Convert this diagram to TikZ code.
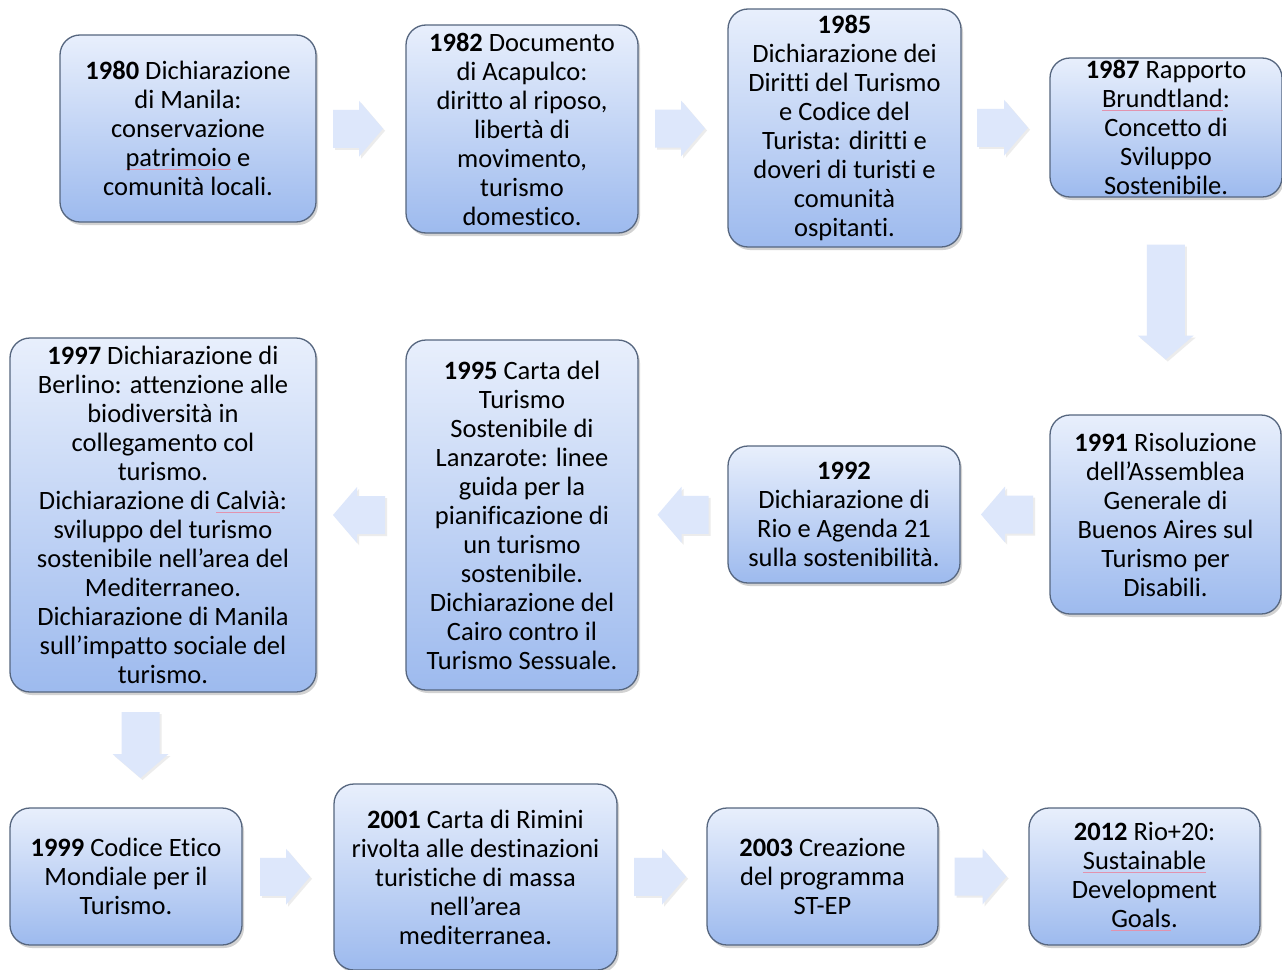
\documentclass[tikz,border=0pt]{standalone}
\usepackage{fontspec}
\setmainfont{Carlito}[Ligatures=NoCommon]
\usetikzlibrary{calc,shadows}
\definecolor{boxtop}{HTML}{E8EFFC}
\definecolor{boxbottom}{HTML}{9DBAEE}
\definecolor{boxline}{HTML}{56667F}
\definecolor{arrowfill}{HTML}{DDE7FB}
\definecolor{spellred}{HTML}{E293AE}
% spell-check style underline, drawn as a thin pink rule
\newcommand\spell[1]{\setbox0\hbox{#1}\rlap{\color{spellred}\rule[-3pt]{\wd0}{0.8pt}}#1}
% block arrow centred at #1, pointing at angle #2, of total length #3
\newcommand\blockarrow[3]{%
  \fill[arrowshape, shift={(#1)}, rotate=#2]
    ({-#3/2},-19) -- ({#3/2-24},-19) -- ({#3/2-24},-28) -- ({#3/2},0)
    -- ({#3/2-24},28) -- ({#3/2-24},19) -- ({-#3/2},19) -- cycle;}
\tikzset{
  event/.style={draw=boxline, line width=1.3pt, rounded corners=20pt,
    top color=boxtop, bottom color=boxbottom, align=center,
    inner sep=0pt, font=\fontsize{26.5}{29}\selectfont,
    drop shadow={opacity=0.35, shadow xshift=2pt, shadow yshift=-3pt}},
  arrowshape/.style={fill=arrowfill,
    drop shadow={opacity=0.15, shadow xshift=2pt, shadow yshift=-2pt}}
}
\begin{document}
\begin{tikzpicture}[x=1pt, y=-1pt]
\useasboundingbox (0,0) rectangle (1282,969);
\fill[white] (0,0) rectangle (1282,969);

% first row
\node[event, minimum width=256pt, minimum height=187pt] (b1) at (188,128.5)
  {\textbf{1980} Dichiarazione\\di Manila:\\conservazione\\\spell{patrimoio} e\\comunità locali.};
\node[event, minimum width=232pt, minimum height=208pt] (b2) at (522,129)
  {\textbf{1982} Documento\\di Acapulco:\\diritto al riposo,\\libertà di\\movimento,\\turismo\\domestico.};
\node[event, minimum width=233pt, minimum height=238pt] (b3) at (844.5,128)
  {\textbf{1985}\\Dichiarazione dei\\Diritti del Turismo\\e Codice del\\Turista: diritti e\\doveri di turisti e\\comunità\\ospitanti.};
\node[event, minimum width=232pt, minimum height=139pt] (b4) at (1166,127.5)
  {\textbf{1987} Rapporto\\\spell{Brundtland}:\\Concetto di\\Sviluppo\\Sostenibile.};

% second row
\node[event, minimum width=231pt, minimum height=199pt] (b5) at (1165.5,514.5)
  {\textbf{1991} Risoluzione\\dell’Assemblea\\Generale di\\Buenos Aires sul\\Turismo per\\Disabili.};
\node[event, minimum width=232pt, minimum height=137pt] (b6) at (844,514.5)
  {\textbf{1992}\\Dichiarazione di\\Rio e Agenda 21\\sulla sostenibilità.};
\node[event, minimum width=232pt, minimum height=350pt] (b7) at (522,515)
  {\textbf{1995} Carta del\\Turismo\\Sostenibile di\\Lanzarote: linee\\guida per la\\pianificazione di\\un turismo\\sostenibile.\\Dichiarazione del\\Cairo contro il\\Turismo Sessuale.};
\node[event, minimum width=306pt, minimum height=354pt] (b8) at (163,515)
  {\textbf{1997} Dichiarazione di\\Berlino: attenzione alle\\biodiversità in\\collegamento col\\turismo.\\Dichiarazione di \spell{Calvià}:\\sviluppo del turismo\\sostenibile nell’area del\\Mediterraneo.\\Dichiarazione di Manila\\sull’impatto sociale del\\turismo.};

% third row
\node[event, minimum width=232pt, minimum height=137pt] (b9) at (126,876.5)
  {\textbf{1999} Codice Etico\\Mondiale per il\\Turismo.};
\node[event, minimum width=283pt, minimum height=186pt] (b10) at (475.5,877)
  {\textbf{2001} Carta di Rimini\\rivolta alle destinazioni\\turistiche di massa\\nell’area\\mediterranea.};
\node[event, minimum width=231pt, minimum height=137pt] (b11) at (822.5,876.5)
  {\textbf{2003} Creazione\\del programma\\ST-EP};
\node[event, minimum width=231pt, minimum height=137pt] (b12) at (1144.5,876.5)
  {\textbf{2012} Rio+20:\\\spell{Sustainable}\\Development\\\spell{Goals}.};

% block arrows between consecutive events
\blockarrow{$(b1.east)!0.5!(b2.west)+(-3,0)$}{0}{50}
\blockarrow{$(b2.east)!0.5!(b3.west)+(-3,0)$}{0}{50}
\blockarrow{$(b3.east)!0.5!(b4.west)+(-3,0)$}{0}{51}
\blockarrow{$(b4.south)!0.5!(b5.north)+(0,-4)$}{-90}{115}
\blockarrow{$(b5.west)!0.5!(b6.east)+(2,0)$}{180}{52}
\blockarrow{$(b6.west)!0.5!(b7.east)+(0,0)$}{180}{51}
\blockarrow{$(b7.west)!0.5!(b8.east)+(-2,0)$}{180}{52}
\blockarrow{$(b8.south)!0.5!(b9.north)+(-4,-5)$}{-90}{66}
\blockarrow{$(b9.east)!0.5!(b10.west)+(-3,0)$}{0}{50}
\blockarrow{$(b10.east)!0.5!(b11.west)+(-2,0)$}{0}{52}
\blockarrow{$(b11.east)!0.5!(b12.west)+(-3,0)$}{0}{52}
\end{tikzpicture}
\end{document}
